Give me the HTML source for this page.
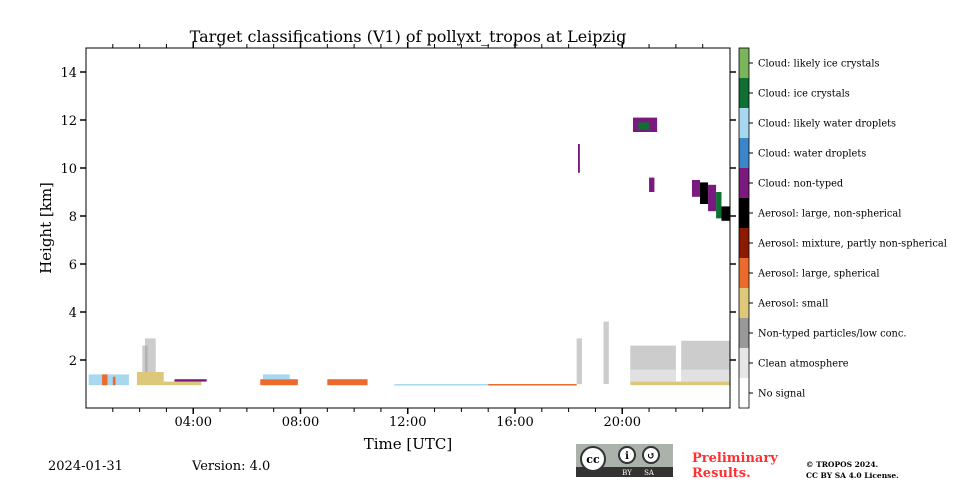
<!DOCTYPE html>
<html><head><meta charset="utf-8"><style>
body{margin:0;background:#fff;width:960px;height:480px;overflow:hidden;font-family:"DejaVu Serif","Liberation Serif",serif}
svg text{font-family:"DejaVu Serif","Liberation Serif",serif}
</style></head><body>
<svg id="chart" width="960" height="480" xmlns="http://www.w3.org/2000/svg">
<text x="408" y="42" text-anchor="middle" font-size="16">Target classifications (V1) of pollyxt_tropos at Leipzig</text>
<g id="marks"></g>
<rect x="86" y="48" width="644" height="360" fill="none" stroke="#000" stroke-width="1"/>
<g id="axes"></g>
<text transform="translate(51,228) rotate(-90)" text-anchor="middle" font-size="15">Height [km]</text>
<text x="408" y="449" text-anchor="middle" font-size="15">Time [UTC]</text>
<g id="cbar"></g>
<text x="48" y="470" font-size="13">2024-01-31</text>
<text x="192" y="470" font-size="13">Version: 4.0</text>
<g>
<rect x="576" y="444" width="97" height="33" fill="#aab2ab"/>
<rect x="576" y="467" width="97" height="10" fill="#333"/>
<circle cx="593" cy="459" r="12" fill="#fff" stroke="#333" stroke-width="2"/>
<text x="593" y="463" text-anchor="middle" font-size="11" font-weight="bold" font-family="Liberation Sans">cc</text>
<circle cx="627" cy="455" r="8" fill="#fff" stroke="#333" stroke-width="2"/>
<circle cx="651" cy="455" r="8" fill="#fff" stroke="#333" stroke-width="2"/>
<text x="627" y="459" text-anchor="middle" font-size="10" font-weight="bold">i</text>
<text x="651" y="459" text-anchor="middle" font-size="10" font-weight="bold">↺</text>
<text x="627" y="475" text-anchor="middle" font-size="7" fill="#fff" font-family="Liberation Sans">BY</text>
<text x="649" y="475" text-anchor="middle" font-size="7" fill="#fff" font-family="Liberation Sans">SA</text>
</g>
<text x="692" y="462" font-size="13" font-weight="bold" fill="#ff3030">Preliminary</text>
<text x="692" y="477" font-size="13" font-weight="bold" fill="#ff3030">Results.</text>
<text x="806" y="467" font-size="7.5" font-weight="bold">© TROPOS 2024.</text>
<text x="806" y="478" font-size="7.5" font-weight="bold">CC BY SA 4.0 License.</text>
</svg>
<script>
const classNames=["No signal","Clean atmosphere","Non-typed particles/low conc.","Aerosol: small","Aerosol: large, spherical","Aerosol: mixture, partly non-spherical","Aerosol: large, non-spherical","Cloud: non-typed","Cloud: water droplets","Cloud: likely water droplets","Cloud: ice crystals","Cloud: likely ice crystals"];
const classColors=["#ffffff","#e6e6e6","#999999","#dcc878","#ec6a2c","#8b1a00","#000000","#7a1a7e","#3a86c8","#a8d8f0","#0f7034","#7ab55c"];
const xTicks=[4,8,12,16,20];
const xTickLabels=["04:00","08:00","12:00","16:00","20:00"];
const yTicks=[2,4,6,8,10,12,14];
// segments: [startHour, endHour, baseKm, topKm, classIndex]
const segStart=[0.1,0.6,1.0,2.1,2.2,1.9,2.9,3.3,6.5,6.6,9.0,11.5,15.0,18.3,19.3,20.3,20.3,22.2,22.2,20.3,18.35,20.4,20.6,21.0,22.6,22.9,23.2,23.5,23.7];
const segEnd  =[1.6,0.8,1.1,2.3,2.6,2.9,4.3,4.5,7.9,7.6,10.5,15.0,18.3,18.5,19.5,22.0,22.0,24.0,24.0,24.0,18.42,21.3,21.0,21.2,22.9,23.2,23.5,23.7,24.0];
const segBase =[0.95,0.95,0.95,1.5,1.5,0.95,0.95,1.1,0.95,1.2,0.95,0.95,0.95,1.0,1.0,1.1,1.0,1.1,1.0,0.95,9.8,11.5,11.6,9.0,8.8,8.5,8.2,7.9,7.8];
const segTop  =[1.4,1.4,1.3,2.6,2.9,1.5,1.1,1.2,1.2,1.4,1.2,1.0,1.0,2.9,3.6,2.6,1.6,2.8,1.6,1.1,11.0,12.1,11.9,9.6,9.5,9.4,9.3,9.0,8.4];
const segClass=[9,4,4,2,2,3,3,7,4,9,4,9,4,2,2,2,1,2,1,3,7,7,10,7,7,6,7,10,6];
const X0=86,X1=729.5,Y0=408,Y1=48;
const xs=h=>X0+(X1-X0)*h/24, ys=k=>Y0-(Y0-Y1)*k/15;
const NS="http://www.w3.org/2000/svg";
const mk=(t,a,p)=>{const e=document.createElementNS(NS,t);for(const k in a)e.setAttribute(k,a[k]);p.appendChild(e);return e;};
const marks=document.getElementById('marks');
for(let i=0;i<segStart.length;i++){
 const c=segClass[i];
 const r=mk('rect',{x:xs(segStart[i]),y:ys(segTop[i]),width:Math.max(1,xs(segEnd[i])-xs(segStart[i])),height:Math.max(1.5,ys(segBase[i])-ys(segTop[i])),fill:classColors[c],opacity:c===2?0.5:(c===1?0.8:1)},marks);
 
 
}
const ax=document.getElementById('axes');
for(let h=1;h<24;h++){
 const maj=h%4===0,x=xs(h),L=maj?6:4;
 mk('line',{x1:x,x2:x,y1:Y0,y2:Y0+L,stroke:'#000','stroke-width':maj?1.5:1},ax);
 mk('line',{x1:x,x2:x,y1:Y1,y2:Y1-L,stroke:'#000','stroke-width':maj?1.5:1},ax);
}
xTicks.forEach((h,i)=>{const t=mk('text',{x:xs(h),y:426,'text-anchor':'middle','font-size':13},ax);t.textContent=xTickLabels[i];
 
 });
yTicks.forEach(k=>{const y=ys(k);
 mk('line',{x1:X0-6,x2:X0,y1:y,y2:y,stroke:'#000','stroke-width':1.5},ax);
 mk('line',{x1:730,x2:736,y1:y,y2:y,stroke:'#000','stroke-width':1.5},ax);
 const t=mk('text',{x:77,y:y+5,'text-anchor':'end','font-size':13},ax);t.textContent=k;
 
 });
const cb=document.getElementById('cbar');
classNames.forEach((n,i)=>{const y=408-30*(i+1);
 const r=mk('rect',{x:739,y:y,width:10,height:30,fill:classColors[i]},cb);
 
 
 mk('line',{x1:749,x2:753,y1:y+15,y2:y+15,stroke:'#000'},cb);
 const t=mk('text',{x:758,y:y+18.5,'font-size':9.8},cb);t.textContent=n;
 
 });
mk('rect',{x:739,y:48,width:10,height:360,fill:'none',stroke:'#000','stroke-width':0.8},cb);
</script>
</body></html>
